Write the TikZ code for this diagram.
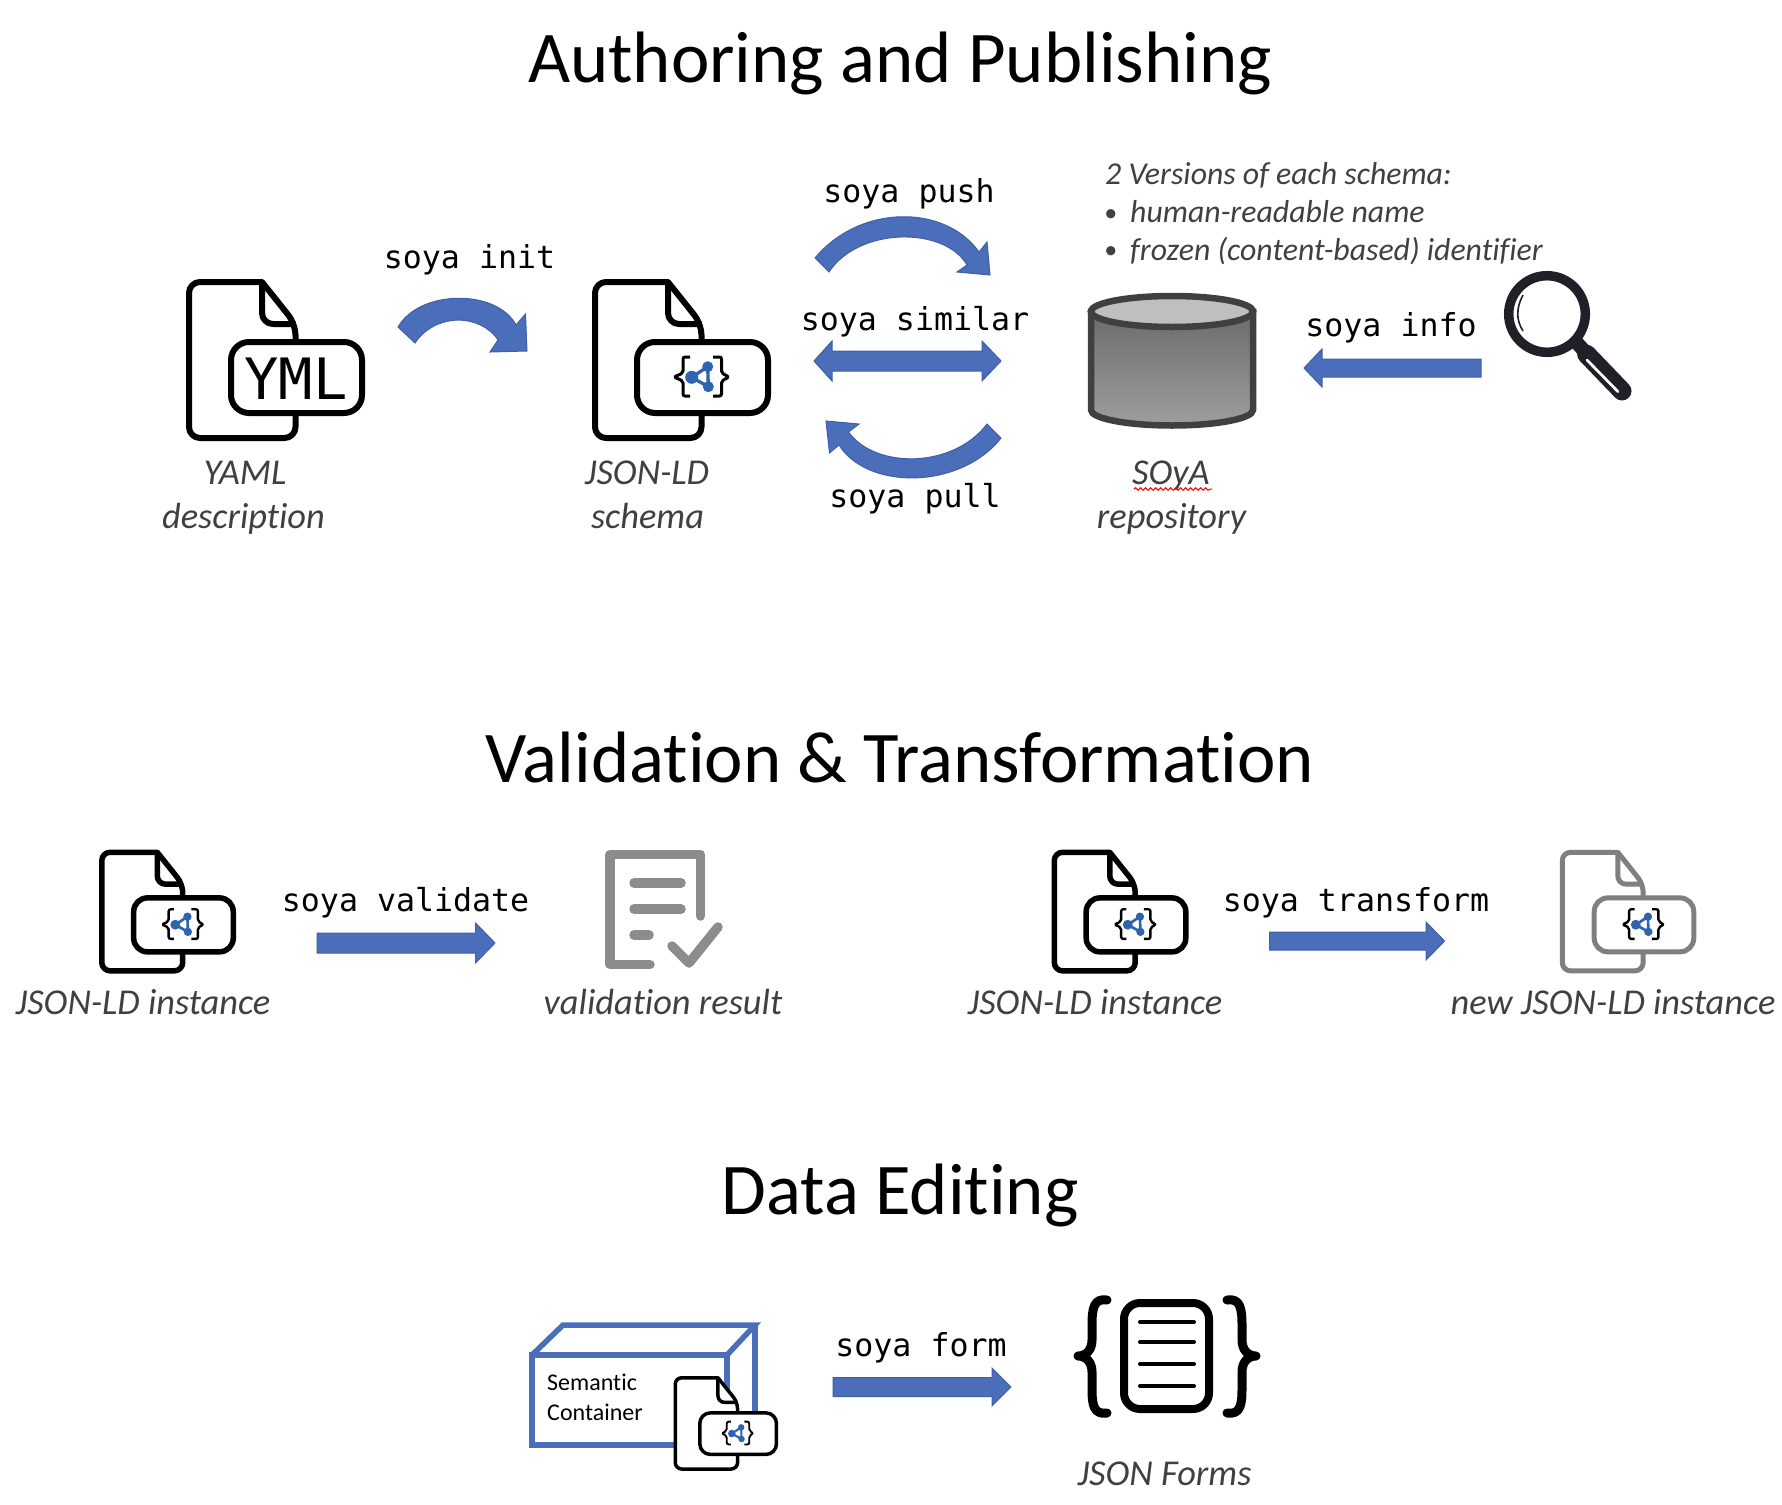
\documentclass[tikz,border=0pt]{standalone}
\usepackage{fontspec}
\setmainfont[Ligatures={NoCommon}]{Carlito}
\newfontfamily\soyamono{DejaVu Sans Mono}
\usetikzlibrary{decorations.pathmorphing}
\definecolor{arrowblue}{HTML}{4B6EBB}
\definecolor{arrowedge}{HTML}{3F5FA6}
\definecolor{labelgray}{HTML}{404040}
\definecolor{iconblue}{HTML}{2F63B0}
\definecolor{resultgray}{HTML}{8C8C8C}
\definecolor{docgray}{HTML}{7F7F7F}
\definecolor{loupe}{HTML}{1F2028}
\tikzset{
  titletext/.style={anchor=base,font=\fontsize{72.8}{86}\selectfont,text=black,inner sep=0},
  cmdtext/.style={anchor=base,font=\soyamono\fontsize{31.6}{38}\selectfont,text=black,inner sep=0},
  caption/.style={anchor=base,font=\itshape\fontsize{36.4}{42}\selectfont,text=labelgray,inner sep=0},
  notetext/.style={anchor=base west,font=\itshape\fontsize{31.8}{38}\selectfont,text=labelgray,inner sep=0},
  notebullet/.style={anchor=base west,font=\itshape\fontsize{26}{30}\selectfont,text=labelgray,inner sep=0},
  blockarrow/.style={fill=arrowblue,draw=arrowedge,line width=1pt,line join=miter},
  resultline/.style={draw=resultgray,line width=9.5pt,line cap=round,line join=round},
  containerline/.style={draw=arrowblue,line width=5.5pt,line join=miter},
}
% x, y, scale, line width, colour, content
\newcommand\docicon[6]{%
  \begin{scope}[shift={(#1,#2)},scale=#3,line width=#4pt,draw=#5,line join=round]
    \draw[fill=white,rounded corners=11pt*#3] (76,3) -- (3,3) -- (3,159) -- (109.5,159) -- (109.5,45) [sharp corners] -- cycle;
    \draw[rounded corners=11pt*#3] (76,3) -- (76,45) -- (109.5,45);
    \draw[fill=white,rounded corners=18pt*#3] (45,63) rectangle (176,134);
    #6
  \end{scope}}
\newcommand\molecule[1]{%
  \draw[black,line width=#1pt,rounded corners=2pt] (98,78) -- (91,78) -- (91,94) -- (82,98) -- (91,102) -- (91,117) -- (98,117);
  \draw[black,line width=#1pt,rounded corners=2pt] (121,78) -- (129.5,78) -- (129.5,94) -- (137,98) -- (129.5,102) -- (129.5,117) -- (121,117);
  \draw[iconblue,line width=1.1pt*#1] (115.7,87.7) -- (99.7,98.3) -- (116.3,107.7) -- cycle;
  \fill[iconblue] (115.7,87.7) circle[radius=5.5] (99.7,98.3) circle[radius=6.5] (116.3,107.7) circle[radius=5.5];}
% tail x, base x, tip x, centre y, half shaft, half head
\newcommand\straightarrow[6]{%
  \draw[blockarrow] (#1,#4-#5) -- (#2,#4-#5) -- (#2,#4-#6) -- (#3,#4) -- (#2,#4+#6) -- (#2,#4+#5) -- (#1,#4+#5) -- cycle;}
\begin{document}
\begin{tikzpicture}[x=1pt,y=-1pt]
\useasboundingbox (0,0) rectangle (1782,1504);
% titles
\node[titletext] (t1) at (900,82) {Authoring and Publishing};
\node[titletext] (t2) at (900,782) {Validation \& Transformation};
\node[titletext] (t3) at (900,1214) {Data Editing};
% top row icons
\docicon{186}{279}{1}{6}{black}{\node[inner sep=0,anchor=base,font=\soyamono\fontsize{57}{60}\selectfont] (yml) at (110,120) {YML};}
\docicon{592}{279}{1}{6}{black}{\molecule{3}}
% curved arrows
\draw[blockarrow] (398,327) .. controls (420,289) and (497,289) .. (516,325) -- (525.5,314) -- (527,351) -- (490,352) -- (498,340) .. controls (480,313) and (435,313) .. (415,343) -- cycle;
\draw[blockarrow] (815,258) .. controls (860,204) and (945,204) .. (979,252) -- (987,242) -- (990,275) -- (957,272) -- (967,265) .. controls (945,226.5) and (859,226.5) .. (829,272) -- cycle;
\draw[blockarrow] (1001,438) .. controls (960,490) and (867,490) .. (839,445) -- (829.5,453) -- (826,421) -- (859,424) -- (848.5,432) .. controls (875,469) and (953,469) .. (987,424) -- cycle;
\draw[blockarrow] (814,361) -- (832,341) -- (832,351) -- (982,351) -- (982,341) -- (1001,361) -- (982,381) -- (982,371) -- (832,371) -- (832,381) -- cycle;
\straightarrow{1481}{1322}{1304}{368}{9}{19}
% repository
\begin{scope}[line width=6.5pt,draw=labelgray]
  \draw[top color=black!58,bottom color=black!38] (1091,311.5) -- (1091,410) arc[start angle=180,delta angle=-180,x radius=81,y radius=15.5] -- (1253,311.5) -- cycle;
  \draw[fill=black!25] (1172,311.5) ellipse[x radius=81,y radius=15.5];
\end{scope}
% magnifier
\draw[loupe,line width=9.5pt] (1547,314) circle[radius=38.3];
\draw[loupe,line width=14pt] (1577,343) -- (1588,355);
\draw[loupe,line width=19pt,line cap=round] (1586.7,354.3) -- (1622,391);
\draw[white,line width=2.7pt,line cap=round] (1587,360) -- (1618,391.7);
\draw[loupe,line width=1.6pt] (1523,295) .. controls (1516,308) and (1516,320) .. (1523,331);
% command labels
\node[cmdtext] (init) at (469.5,268) {soya init};
\node[cmdtext] (push) at (909,202) {soya push};
\node[cmdtext] (similar) at (915,330) {soya similar};
\node[cmdtext] (pull) at (915,507) {soya pull};
\node[cmdtext] (info) at (1391,336) {soya info};
\node[cmdtext] (validate) at (405.6,911) {soya validate};
\node[cmdtext] (transform) at (1356,911) {soya transform};
\node[cmdtext] (form) at (921,1356) {soya form};
% top captions
\node[caption] (yaml) at (245,484) {YAML};
\node[caption] (desc) at (243.5,528) {description};
\node[caption] (json) at (647,484) {JSON-LD};
\node[caption] (schema) at (647.5,528) {schema};
\node[caption] (soyaname) at (1171,484) {SOyA};
\draw[red,line width=1pt,decorate,decoration={snake,segment length=5pt,amplitude=1.3pt}] (1134,489) -- (1212,489);
\node[caption] (repo) at (1171.5,528) {repository};
\node[notetext] (n1) at (1105,184) {2 Versions of each schema:};
\node[notebullet] (b1) at (1104,221) {•};
\node[notetext] (n2) at (1130,222) {human-readable name};
\node[notebullet] (b2) at (1104,258) {•};
\node[notetext] (n3) at (1130,260) {frozen (content-based) identifier};
% middle row
\docicon{99.5}{850}{0.76}{5.5}{black}{\molecule{2.4}}
\straightarrow{317}{475.5}{495}{943}{10}{20}
\draw[resultline] (700.5,916) -- (700.5,854.5) -- (610,854.5) -- (610,964.5) -- (650,964.5);
\draw[resultline] (634,883) -- (681,883);
\draw[resultline] (634,909) -- (681,909);
\draw[resultline] (634,935) -- (649,935);
\draw[resultline] (672,946) -- (689,963) -- (718,927);
\docicon{1052}{850}{0.76}{5.5}{black}{\molecule{2.4}}
\straightarrow{1269.5}{1426}{1444.5}{941}{9}{19}
\docicon{1560}{850}{0.76}{5}{docgray}{\molecule{2.4}}
\node[caption] (i1) at (143,1014) {JSON-LD instance};
\node[caption] (res) at (663,1014) {validation result};
\node[caption] (i2) at (1095,1014) {JSON-LD instance};
\node[caption] (i3) at (1613,1014) {new JSON-LD instance};
% bottom row
\draw[containerline] (532,1355) rectangle (727,1445);
\draw[containerline] (532,1355) -- (563,1325) -- (755,1325) -- (727,1355);
\draw[containerline] (755,1325) -- (755,1415);
\node[anchor=base west,inner sep=0,font=\fontsize{24}{28}\selectfont] (sem) at (547,1390) {Semantic};
\node[anchor=base west,inner sep=0,font=\fontsize{24}{28}\selectfont] (con) at (547,1420) {Container};
\docicon{673.5}{1376}{0.585}{3.5}{black}{\molecule{1.9}}
\straightarrow{833}{992}{1011}{1387}{9.5}{19}
\draw[black,line width=9pt,line cap=round,line join=round] (1107,1300) .. controls (1094,1298) and (1092,1308) .. (1092,1325) -- (1092,1340) .. controls (1092,1350) and (1086,1356) .. (1078,1356) .. controls (1086,1356) and (1092,1362) .. (1092,1372) -- (1092,1390) .. controls (1092,1405) and (1094,1415) .. (1107,1413);
\draw[black,line width=9pt,line cap=round,line join=round] (1227,1300) .. controls (1240,1298) and (1242,1308) .. (1242,1325) -- (1242,1340) .. controls (1242,1350) and (1248,1356) .. (1256,1356) .. controls (1248,1356) and (1242,1362) .. (1242,1372) -- (1242,1390) .. controls (1242,1405) and (1240,1415) .. (1227,1413);
\draw[black,line width=8pt,rounded corners=16pt] (1124,1303) rectangle (1209,1409);
\draw[black,line width=4pt,line cap=round] (1140,1322) -- (1194,1322) (1140,1342) -- (1194,1342) (1140,1364) -- (1194,1364) (1140,1386) -- (1194,1386);
\node[caption] (forms) at (1164.5,1485) {JSON Forms};
\end{tikzpicture}
\end{document}
